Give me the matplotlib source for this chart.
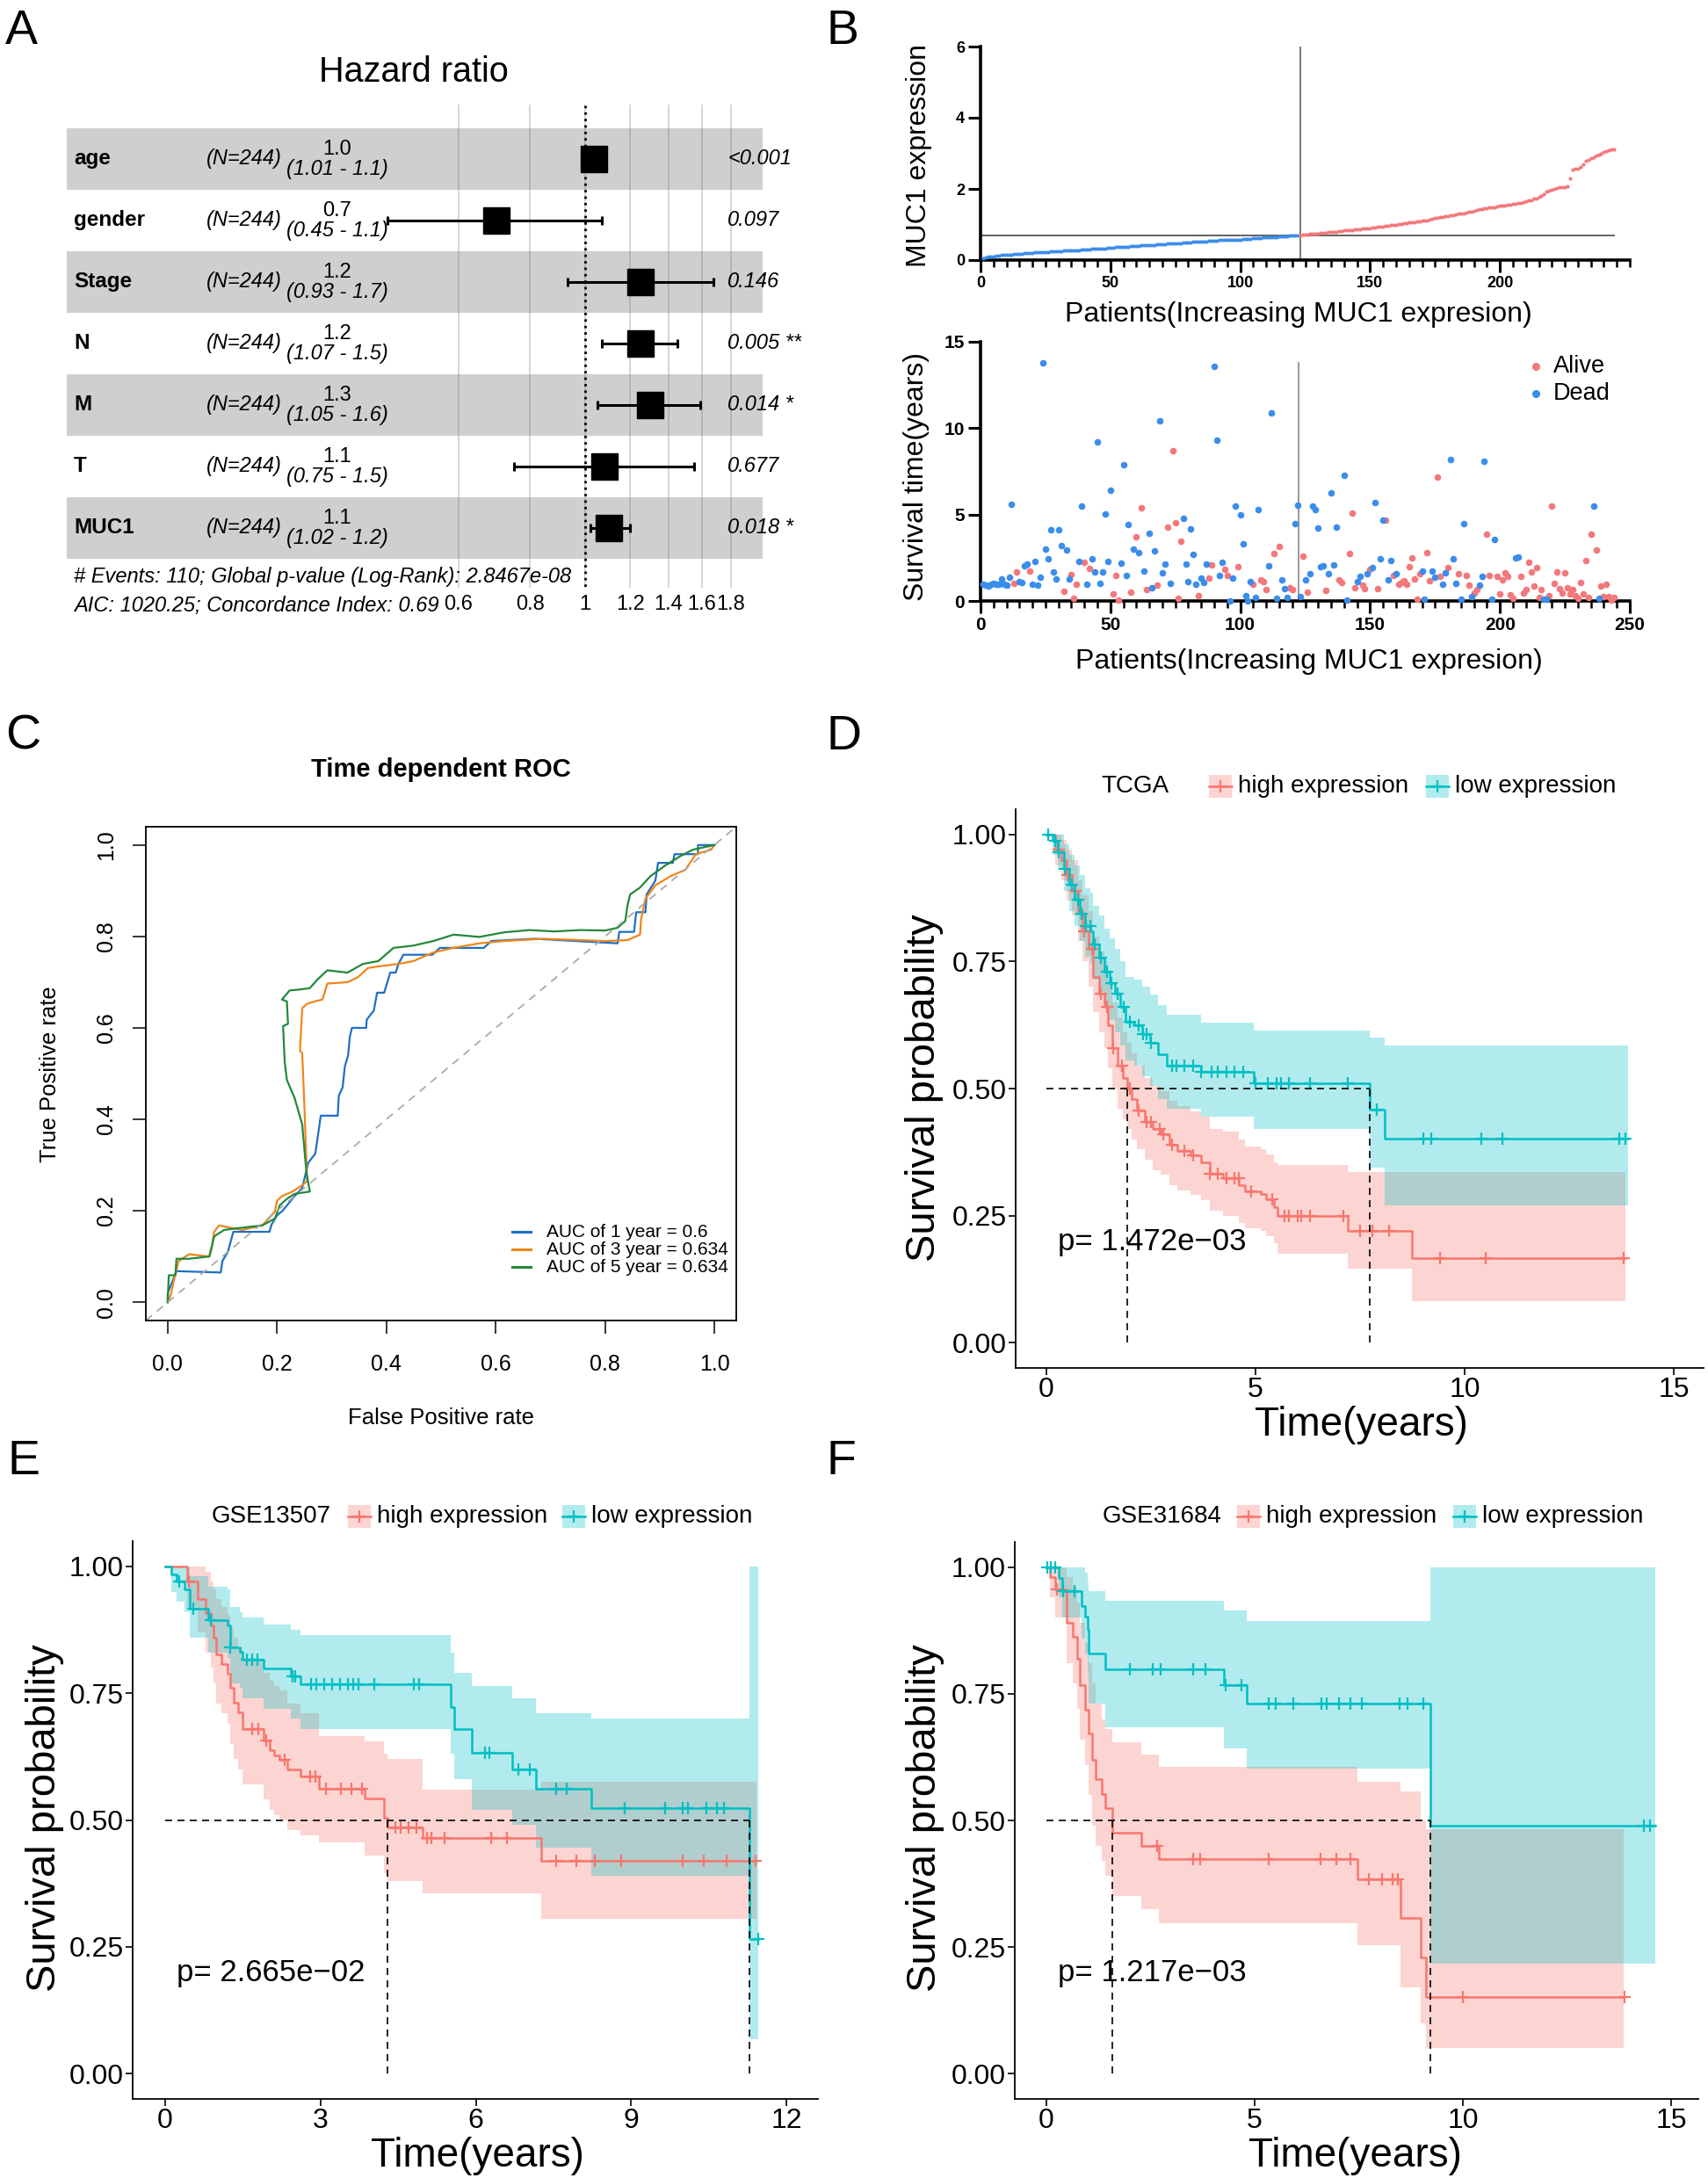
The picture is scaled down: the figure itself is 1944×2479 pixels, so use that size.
import numpy as np
import matplotlib.pyplot as plt
import matplotlib.transforms as mtransforms
from matplotlib.patches import Rectangle
from matplotlib.lines import Line2D
from matplotlib.ticker import MultipleLocator

plt.rcParams['font.family'] = ['Liberation Sans', 'DejaVu Sans']

# ---------------- data: A (multivariate Cox forest plot) ----------------
fp_vars = ['age', 'gender', 'Stage', 'N', 'M', 'T', 'MUC1']
fp_n = [244, 244, 244, 244, 244, 244, 244]
fp_hr = [1.036, 0.70, 1.25, 1.25, 1.30, 1.08, 1.10]
fp_lo = [1.01, 0.45, 0.93, 1.07, 1.05, 0.75, 1.02]
fp_hi = [1.06, 1.07, 1.68, 1.45, 1.59, 1.55, 1.20]
fp_hr_txt = ['1.0', '0.7', '1.2', '1.2', '1.3', '1.1', '1.1']
fp_ci_txt = ['(1.01 - 1.1)', '(0.45 - 1.1)', '(0.93 - 1.7)', '(1.07 - 1.5)',
             '(1.05 - 1.6)', '(0.75 - 1.5)', '(1.02 - 1.2)']
fp_p_txt = ['<0.001', '0.097', '0.146', '0.005 **', '0.014 *', '0.677', '0.018 *']
fp_ticks = [0.6, 0.8, 1, 1.2, 1.4, 1.6, 1.8]
fp_tick_lbl = ['0.6', '0.8', '1', '1.2', '1.4', '1.6', '1.8']
fp_footer = ['# Events: 110; Global p-value (Log-Rank): 2.8467e-08',
             'AIC: 1020.25; Concordance Index: 0.69']

# ---------------- data: B (risk plot) ----------------
muc1_expr = [
    0.06, 0.08, 0.09, 0.10, 0.11, 0.12, 0.13, 0.14, 0.14, 0.15,
    0.16, 0.16, 0.17, 0.17, 0.18, 0.18, 0.19, 0.19, 0.20, 0.20,
    0.21, 0.21, 0.22, 0.22, 0.23, 0.23, 0.24, 0.24, 0.24, 0.25,
    0.25, 0.26, 0.26, 0.27, 0.27, 0.28, 0.28, 0.28, 0.29, 0.29,
    0.30, 0.30, 0.31, 0.31, 0.32, 0.32, 0.33, 0.33, 0.34, 0.35,
    0.35, 0.36, 0.36, 0.37, 0.37, 0.38, 0.38, 0.39, 0.39, 0.40,
    0.40, 0.41, 0.41, 0.42, 0.42, 0.43, 0.43, 0.44, 0.44, 0.45,
    0.45, 0.46, 0.46, 0.47, 0.47, 0.48, 0.48, 0.49, 0.49, 0.50,
    0.50, 0.51, 0.51, 0.52, 0.52, 0.53, 0.53, 0.54, 0.54, 0.55,
    0.55, 0.56, 0.56, 0.56, 0.57, 0.57, 0.57, 0.58, 0.58, 0.58,
    0.59, 0.59, 0.60, 0.60, 0.61, 0.61, 0.62, 0.62, 0.63, 0.63,
    0.64, 0.64, 0.65, 0.65, 0.66, 0.66, 0.67, 0.67, 0.68, 0.68,
    0.69, 0.69,
    0.70, 0.71, 0.71, 0.72, 0.73, 0.73, 0.74, 0.75,
    0.76, 0.76, 0.77, 0.78, 0.79, 0.80, 0.80, 0.81, 0.82, 0.83,
    0.83, 0.84, 0.85, 0.86, 0.86, 0.87, 0.88, 0.89, 0.89, 0.90,
    0.91, 0.92, 0.93, 0.94, 0.95, 0.96, 0.97, 0.98, 0.99, 1.00,
    1.01, 1.02, 1.03, 1.04, 1.05, 1.06, 1.07, 1.08, 1.09, 1.10,
    1.11, 1.12, 1.14, 1.16, 1.18, 1.19, 1.20, 1.22, 1.23, 1.24,
    1.26, 1.27, 1.29, 1.30, 1.31, 1.32, 1.34, 1.36, 1.37, 1.39,
    1.40, 1.42, 1.43, 1.45, 1.46, 1.47, 1.48, 1.49, 1.51, 1.52,
    1.53, 1.54, 1.55, 1.56, 1.57, 1.58, 1.60, 1.61, 1.63, 1.65,
    1.67, 1.69, 1.72, 1.74, 1.78, 1.80, 1.84, 1.92, 1.95, 1.97,
    2.00, 2.03, 2.04, 2.05, 2.06, 2.08, 2.30, 2.54, 2.56, 2.58,
    2.62, 2.70, 2.78, 2.82, 2.86, 2.90, 2.94, 2.97, 3.00, 3.03,
    3.06, 3.08, 3.10, 3.12]
n_low = 122
cutoff = 0.70

surv_years = [
    0.98, 0.93, 0.85, 0.98, 1.00, 0.98, 0.98, 1.29, 0.95, 0.93,
    1.39, 5.59, 1.00, 1.70, 1.10, 1.07, 2.03, 2.15, 1.74, 0.95,
    2.29, 0.90, 1.35, 13.8, 3.00, 2.42, 4.13, 1.66, 1.27, 4.13,
    3.20, 0.56, 2.93, 1.29, 1.54, 0.17, 0.98, 2.29, 5.49, 2.22,
    0.96, 1.90, 2.44, 1.70, 9.19, 1.03, 1.69, 5.01, 2.29, 6.40,
    0.42, 1.46, 0.05, 2.20, 7.87, 1.49, 4.40, 0.52, 3.00, 3.69,
    2.78, 5.37, 1.74, 0.64, 3.94, 0.78, 2.89, 0.93, 10.41, 1.64,
    2.12, 4.25, 1.03, 8.68, 4.54, 0.17, 3.44, 4.79, 2.15, 1.12,
    4.18, 2.67, 0.96, 0.30, 1.30, 1.08, 2.12, 1.30, 2.08, 13.56,
    9.33, 1.46, 2.25, 1.83, 1.49, 0.00, 1.30, 5.47, 1.96, 4.99,
    3.30, 0.30, 0.00, 1.13, 0.96, 0.22, 5.30, 1.24, 1.13, 0.64,
    2.05, 10.88, 2.73, 0.14, 3.15, 1.24, 0.73, 0.19, 0.78, 0.68,
    4.45, 5.55, 0.25, 2.59, 1.20, 0.51, 1.57, 5.47, 5.30, 4.20,
    1.98, 2.05, 0.59, 1.57, 6.26, 2.08, 4.25, 1.20, 1.07, 7.25,
    0.05, 2.73, 5.08, 0.78, 1.13, 1.44, 0.90, 0.69, 1.57, 1.83,
    1.91, 5.72, 0.73, 2.42, 4.66, 4.66, 1.24, 2.34, 1.49, 1.57,
    0.98, 1.07, 1.15, 0.98, 1.98, 2.47, 1.27, 0.12, 1.57, 1.74,
    0.12, 2.81, 1.19, 1.71, 1.37, 7.19, 1.44, 0.98, 1.64, 1.91,
    8.21, 2.42, 1.00, 1.57, 0.08, 4.49, 1.47, 0.90, 0.24, 0.47,
    0.64, 0.93, 1.44, 8.08, 3.86, 1.46, 0.08, 3.57, 1.44, 0.42,
    1.20, 1.61, 1.44, 0.34, 0.14, 2.49, 2.56, 1.44, 0.44, 0.68,
    2.25, 1.66, 0.86, 1.93, 0.22, 0.64, 0.08, 0.12, 0.30, 5.47,
    1.02, 1.66, 0.69, 0.47, 1.61, 0.76, 0.39, 0.66, 0.30, 0.14,
    1.07, 0.39, 2.34, 0.22, 3.86, 5.50, 2.93, 0.14, 0.86, 0.25,
    0.96, 0.25, 0.05, 0.19]
# D = dead, A = alive (same order as surv_years)
surv_state = ("DDDDDDDDDD" "DDAADDDDAD" "DDDDDDDDDD" "DADDAAADDA" "DADDDDDDDD"
              "AAADDDDADA" "DADADDDADD" "DADAAAADDD" "DDDADDDAAD" "DDDAADDDAD"
              "DDDDADDAAA" "DDADADDDAA" "DDDADADDDD" "DDADDDDAAD" "DAAADDAADA"
              "DDADDADDAD" "AAAAAAAAAD" "DAADDAADDA" "DDDADDAADA" "ADDDAADDAA"
              "AAAAADDAAA" "AAAAAADDAA" "AAAAAAAAAA" "AAAAADADAA" "AAAA")

# ---------------- data: C (time dependent ROC) ----------------
roc1_fpr = [0, 0, 0.01, 0.016, 0.097, 0.1, 0.11, 0.12, 0.186, 0.19, 0.2, 0.21, 0.232,
            0.246, 0.257, 0.27, 0.28, 0.311, 0.313, 0.32, 0.324, 0.33, 0.333, 0.337,
            0.363, 0.364, 0.377, 0.383, 0.396, 0.401, 0.407, 0.417, 0.422, 0.431,
            0.484, 0.498, 0.578, 0.592, 0.671, 0.823, 0.826, 0.853, 0.857, 0.874,
            0.876, 0.892, 0.897, 0.924, 0.927, 0.97, 0.97, 1.0]
roc1_tpr = [0, 0.02, 0.05, 0.068, 0.065, 0.09, 0.11, 0.154, 0.154, 0.17, 0.19, 0.2, 0.232,
            0.25, 0.305, 0.325, 0.408, 0.408, 0.452, 0.47, 0.516, 0.54, 0.58, 0.6,
            0.6, 0.618, 0.638, 0.677, 0.677, 0.697, 0.721, 0.721, 0.74, 0.76,
            0.76, 0.775, 0.775, 0.79, 0.795, 0.785, 0.81, 0.81, 0.853, 0.853,
            0.892, 0.922, 0.961, 0.961, 0.98, 0.98, 1.0, 1.0]
roc3_fpr = [0, 0.006, 0.011, 0.02, 0.039, 0.076, 0.08, 0.085, 0.094, 0.136, 0.173, 0.196,
            0.2, 0.209, 0.228, 0.246, 0.255, 0.25, 0.246, 0.242, 0.246, 0.255, 0.269,
            0.283, 0.292, 0.329, 0.348, 0.366, 0.394, 0.422, 0.449, 0.486, 0.523,
            0.57, 0.615, 0.689, 0.8, 0.841, 0.864, 0.866, 0.874, 0.892, 0.92, 0.947,
            0.966, 0.994, 1.0]
roc3_tpr = [0, 0.017, 0.046, 0.09, 0.105, 0.1, 0.115, 0.154, 0.168, 0.158, 0.168, 0.198,
            0.222, 0.232, 0.242, 0.256, 0.265, 0.43, 0.545, 0.55, 0.643, 0.653, 0.658,
            0.662, 0.697, 0.7, 0.711, 0.731, 0.736, 0.74, 0.746, 0.765, 0.775,
            0.785, 0.79, 0.795, 0.79, 0.792, 0.804, 0.839, 0.883, 0.912, 0.932, 0.946,
            0.98, 0.99, 1.0]
roc5_fpr = [0, 0.002, 0.014, 0.016, 0.039, 0.076, 0.085, 0.103, 0.136, 0.173, 0.196, 0.205,
            0.219, 0.232, 0.26, 0.254, 0.246, 0.232, 0.218, 0.214, 0.211, 0.22, 0.218,
            0.209, 0.223, 0.242, 0.26, 0.274, 0.292, 0.329, 0.357, 0.385, 0.413,
            0.449, 0.486, 0.523, 0.57, 0.615, 0.661, 0.708, 0.754, 0.8, 0.823, 0.837,
            0.841, 0.846, 0.864, 0.883, 0.911, 0.938, 0.961, 1.0]
roc5_tpr = [0, 0.059, 0.059, 0.095, 0.095, 0.1, 0.144, 0.158, 0.163, 0.168, 0.183, 0.212,
            0.227, 0.237, 0.242, 0.281, 0.389, 0.447, 0.486, 0.525, 0.604, 0.609, 0.658,
            0.662, 0.682, 0.684, 0.687, 0.706, 0.726, 0.721, 0.74, 0.746, 0.775,
            0.78, 0.79, 0.804, 0.799, 0.809, 0.814, 0.811, 0.814, 0.813, 0.819, 0.834,
            0.868, 0.892, 0.907, 0.932, 0.956, 0.976, 0.99, 1.0]
roc_labels = ['AUC of 1 year = 0.6', 'AUC of 3 year = 0.634', 'AUC of 5 year = 0.634']

# ---------------- data: D (TCGA KM) ----------------
d_hi_t = [0, 0.2, 0.35, 0.48, 0.6, 0.75, 0.87, 1.0, 1.12, 1.25, 1.38, 1.48, 1.57, 1.7, 1.83,
          1.94, 2.03, 2.16, 2.35, 2.54, 2.74, 2.93, 3.12, 3.45, 3.7, 3.9, 4.22, 4.61, 4.74,
          5.12, 5.25, 5.45, 5.52, 7.21, 8.73, 13.85]
d_hi_s = [1.0, 0.97, 0.95, 0.92, 0.89, 0.85, 0.81, 0.775, 0.72, 0.686, 0.66, 0.625, 0.58,
          0.545, 0.52, 0.5, 0.48, 0.457, 0.435, 0.42, 0.41, 0.39, 0.377, 0.368, 0.355,
          0.333, 0.324, 0.31, 0.298, 0.293, 0.282, 0.267, 0.249, 0.22, 0.167, 0.167]
d_hi_lo = [1.0, 0.94, 0.91, 0.87, 0.84, 0.79, 0.75, 0.70, 0.65, 0.61, 0.58, 0.54, 0.50, 0.46,
           0.44, 0.42, 0.40, 0.38, 0.36, 0.34, 0.33, 0.31, 0.30, 0.29, 0.28, 0.26, 0.25,
           0.235, 0.225, 0.22, 0.21, 0.195, 0.175, 0.145, 0.082, 0.082]
d_hi_up = [1.0, 1.0, 0.99, 0.97, 0.95, 0.91, 0.88, 0.85, 0.80, 0.77, 0.75, 0.71, 0.67, 0.64,
           0.61, 0.59, 0.57, 0.545, 0.52, 0.505, 0.495, 0.475, 0.465, 0.455, 0.445, 0.42,
           0.415, 0.40, 0.385, 0.38, 0.37, 0.355, 0.35, 0.335, 0.335, 0.335]
d_hi_cens = [0.3, 0.5, 0.7, 0.9, 1.1, 1.3, 1.45, 1.6, 1.8, 2.0, 2.2, 2.4, 2.5, 2.7, 2.8, 3.0,
             3.3, 3.5, 3.9, 4.1, 4.3, 4.5, 4.6, 4.9, 5.4, 5.7, 5.8, 6.0, 6.1, 6.3, 7.1, 7.5,
             7.8, 8.2, 9.4, 10.5, 13.8]
d_lo_t = [0, 0.15, 0.28, 0.41, 0.54, 0.67, 0.8, 0.93, 1.06, 1.12, 1.25, 1.38, 1.51, 1.64,
          1.77, 1.9, 2.09, 2.28, 2.48, 2.67, 2.87, 3.7, 4.95, 7.72, 8.08, 13.9]
d_lo_s = [1.0, 0.987, 0.965, 0.933, 0.902, 0.872, 0.845, 0.82, 0.81, 0.784, 0.757, 0.73,
          0.708, 0.686, 0.66, 0.632, 0.625, 0.607, 0.59, 0.567, 0.545, 0.532, 0.51, 0.458,
          0.402, 0.402]
d_lo_lo = [1.0, 0.96, 0.93, 0.89, 0.85, 0.82, 0.79, 0.76, 0.745, 0.715, 0.69, 0.66, 0.635,
           0.61, 0.585, 0.555, 0.545, 0.525, 0.505, 0.48, 0.46, 0.445, 0.42, 0.345, 0.27, 0.27]
d_lo_up = [1.0, 1.0, 1.0, 0.98, 0.96, 0.94, 0.92, 0.895, 0.885, 0.86, 0.84, 0.815, 0.795,
           0.775, 0.75, 0.72, 0.715, 0.70, 0.685, 0.665, 0.645, 0.63, 0.615, 0.60, 0.585, 0.585]
d_lo_cens = [0.05, 0.2, 0.3, 0.45, 0.6, 0.75, 0.85, 0.95, 1.05, 1.15, 1.3, 1.45, 1.55, 1.7,
             1.85, 2.0, 2.2, 2.3, 2.4, 2.5, 3.0, 3.1, 3.3, 3.5, 3.7, 3.95, 4.1, 4.3, 4.5,
             4.7, 5.0, 5.3, 5.5, 5.6, 5.8, 6.3, 7.2, 7.9, 9.0, 9.2, 10.4, 10.9, 13.7, 13.85]

# ---------------- data: E (GSE13507 KM) ----------------
e_hi_t = [0, 0.43, 0.63, 0.78, 0.88, 0.94, 0.99, 1.09, 1.21, 1.26, 1.32, 1.41, 1.5, 1.9,
          2.02, 2.1, 2.2, 2.36, 2.61, 2.97, 3.86, 4.22, 4.3, 4.97, 7.26, 11.42]
e_hi_s = [1.0, 0.97, 0.936, 0.908, 0.884, 0.86, 0.827, 0.808, 0.789, 0.76, 0.732, 0.713,
          0.68, 0.656, 0.637, 0.627, 0.618, 0.599, 0.585, 0.561, 0.542, 0.504, 0.485,
          0.464, 0.42, 0.42]
e_hi_lo = [1.0, 0.92, 0.87, 0.83, 0.80, 0.77, 0.73, 0.71, 0.69, 0.65, 0.62, 0.60, 0.57,
           0.54, 0.52, 0.51, 0.50, 0.48, 0.47, 0.455, 0.43, 0.395, 0.38, 0.355, 0.305, 0.305]
e_hi_up = [1.0, 1.0, 1.0, 0.99, 0.97, 0.955, 0.935, 0.92, 0.905, 0.88, 0.86, 0.84, 0.815,
           0.79, 0.775, 0.765, 0.755, 0.73, 0.71, 0.665, 0.655, 0.63, 0.62, 0.56, 0.575, 0.575]
e_hi_cens = [0.45, 1.68, 1.8, 1.95, 2.3, 2.8, 2.9, 3.1, 3.4, 3.6, 3.8, 4.45, 4.55, 4.7, 4.85,
             5.05, 5.15, 5.4, 6.3, 6.6, 7.55, 7.95, 8.3, 8.8, 10.0, 10.4, 10.85, 11.4]
e_lo_t = [0, 0.12, 0.22, 0.38, 0.48, 0.83, 1.21, 1.26, 1.44, 1.5, 1.9, 2.43, 2.61, 5.52,
          5.58, 5.92, 6.7, 7.17, 8.23, 11.28, 11.46]
e_lo_s = [1.0, 0.984, 0.97, 0.955, 0.917, 0.894, 0.884, 0.84, 0.832, 0.817, 0.798, 0.784,
          0.767, 0.722, 0.68, 0.632, 0.599, 0.561, 0.523, 0.266, 0.266]
e_lo_lo = [1.0, 0.95, 0.93, 0.91, 0.86, 0.83, 0.82, 0.77, 0.76, 0.74, 0.72, 0.70, 0.68,
           0.63, 0.58, 0.52, 0.49, 0.445, 0.39, 0.067, 0.067]
e_lo_up = [1.0, 1.0, 1.0, 1.0, 0.98, 0.96, 0.955, 0.92, 0.91, 0.90, 0.885, 0.875, 0.865,
           0.83, 0.79, 0.765, 0.74, 0.71, 0.70, 1.0, 1.0]
e_lo_cens = [0.27, 0.55, 0.88, 1.26, 1.58, 1.68, 1.78, 2.46, 2.51, 2.82, 2.92, 3.07, 3.22,
             3.37, 3.53, 3.63, 3.73, 4.04, 4.8, 4.9, 6.17, 6.27, 6.83, 7.04, 7.55, 7.75,
             8.87, 9.65, 10.0, 10.1, 10.45, 10.65, 10.8, 11.46]

# ---------------- data: F (GSE31684 KM) ----------------
f_hi_t = [0, 0.09, 0.22, 0.48, 0.64, 0.74, 0.8, 0.93, 1.02, 1.1, 1.19, 1.32, 1.41, 1.58,
          2.27, 2.7, 7.46, 8.51, 8.99, 9.12, 13.86]
f_hi_s = [1.0, 0.98, 0.957, 0.89, 0.862, 0.819, 0.767, 0.719, 0.671, 0.619, 0.581, 0.552,
          0.524, 0.476, 0.45, 0.424, 0.383, 0.307, 0.23, 0.152, 0.152]
f_hi_lo = [1.0, 0.94, 0.9, 0.81, 0.77, 0.72, 0.66, 0.61, 0.55, 0.49, 0.45, 0.42, 0.39,
           0.35, 0.325, 0.297, 0.254, 0.171, 0.10, 0.05, 0.05]
f_hi_up = [1.0, 1.0, 1.0, 0.98, 0.96, 0.93, 0.89, 0.85, 0.81, 0.77, 0.73, 0.70, 0.68,
           0.655, 0.63, 0.605, 0.576, 0.557, 0.50, 0.483, 0.483]
f_hi_cens = [0.25, 2.66, 3.53, 3.7, 5.34, 6.57, 6.96, 7.29, 7.74, 8.06, 8.32, 8.43, 10.0, 13.87]
f_lo_t = [0, 0.3, 0.38, 0.84, 0.93, 1.0, 1.02, 1.41, 4.25, 4.81, 9.22, 14.62]
f_lo_s = [1.0, 0.979, 0.952, 0.924, 0.902, 0.876, 0.829, 0.798, 0.767, 0.731, 0.49, 0.49]
f_lo_lo = [1.0, 0.94, 0.90, 0.86, 0.83, 0.79, 0.73, 0.684, 0.643, 0.602, 0.217, 0.217]
f_lo_up = [1.0, 1.0, 1.0, 1.0, 0.99, 0.97, 0.952, 0.933, 0.914, 0.893, 1.0, 1.0]
f_lo_cens = [0.03, 0.1, 0.22, 0.41, 0.67, 2.0, 2.55, 2.75, 3.53, 3.81, 4.3, 4.69, 5.34, 5.51,
             5.92, 6.6, 6.73, 7.03, 7.29, 7.58, 8.48, 8.67, 9.04, 14.35, 14.5]

km_labels = ['high expression', 'low expression']
RED, TEAL = '#F8766D', '#00BFC4'

# ---------------- figure ----------------
W, H = 1944, 2479
fig = plt.figure(figsize=(W / 100, H / 100), dpi=100)


def fx(px):
    return px / W


def fy(py):
    return 1 - py / H


def rect(l, t, r, b):
    return [fx(l), fy(b), (r - l) / W, (b - t) / H]


for lab, x, y in [('A', 6, 10), ('B', 940, 10), ('C', 6, 813), ('D', 940, 813),
                  ('E', 8, 1638), ('F', 940, 1638)]:
    fig.text(fx(x), fy(y), lab, fontsize=40, va='top', ha='left')

# ---- A ----
axa = fig.add_axes(rect(76, 100, 912, 720))
axa.set_xscale('log')
axa.set_xlim(np.exp((76 - 666) / 282), np.exp((912 - 666) / 282))
axa.set_ylim(7.7, -1.157)
axa.axis('off')
rows = np.arange(len(fp_vars))
for i in rows[::2]:
    axa.axhspan(i - 0.5, i + 0.5, xmin=0, xmax=(868 - 76) / 836, color='#cfcfcf', lw=0, zorder=0)
for v in fp_ticks:
    axa.plot([v, v], [-0.87, 6.96], color='#7f7f7f', alpha=0.35, lw=1.3, zorder=1)
axa.plot([1, 1], [-0.87, 6.96], color='black', ls=':', lw=2, zorder=2)
axa.hlines(rows, fp_lo, fp_hi, color='black', lw=2.2, zorder=3)
axa.vlines(fp_lo, rows - 0.07, rows + 0.07, color='black', lw=2.2, zorder=3)
axa.vlines(fp_hi, rows - 0.07, rows + 0.07, color='black', lw=2.2, zorder=3)
axa.plot(fp_hr, rows, 's', color='black', ms=21.5, zorder=4)

tr = mtransforms.blended_transform_factory(axa.transAxes, axa.transData)


def afr(px):
    return (px - 76) / 836


for i in rows:
    axa.text(afr(84), i, fp_vars[i], transform=tr, fontsize=17.5, fontweight='bold', va='center')
    axa.text(afr(278), i, f'(N={fp_n[i]})', transform=tr, fontsize=17, style='italic',
             ha='center', va='center')
    axa.text(afr(384), i - 0.15, fp_hr_txt[i], transform=tr, fontsize=17, ha='center', va='center')
    axa.text(afr(384), i + 0.17, fp_ci_txt[i], transform=tr, fontsize=17, style='italic',
             ha='center', va='center')
    axa.text(afr(828), i, fp_p_txt[i], transform=tr, fontsize=17, style='italic',
             va='center', clip_on=True)
for v, lbl in zip(fp_ticks, fp_tick_lbl):
    axa.text(v, 7.24, lbl, fontsize=17, ha='center', va='center')
axa.text(afr(84), 6.8, fp_footer[0], transform=tr, fontsize=17, style='italic', va='center')
axa.text(afr(84), 7.27, fp_footer[1], transform=tr, fontsize=17, style='italic', va='center')
fig.text(fx(471), fy(82), 'Hazard ratio', fontsize=28.5, ha='center', va='center')

# ---- B ----
B_RED, B_BLUE = '#F2787B', '#3B8DEA'
pat = np.arange(1, len(muc1_expr) + 1)
expr = np.array(muc1_expr)
low = pat <= n_low

axb1 = fig.add_axes(rect(1116, 53, 1855, 296))
axb1.scatter(pat[low], expr[low], s=9, color=B_BLUE, lw=0, clip_on=False, zorder=3)
axb1.scatter(pat[~low], expr[~low], s=9, color=B_RED, lw=0, clip_on=False, zorder=3)
axb1.plot([0, len(expr)], [cutoff, cutoff], color='#555555', lw=1.3, zorder=2)
axb1.plot([n_low + 1, n_low + 1], [0, 6], color='#555555', lw=1.1, zorder=2)
axb1.set_xlim(0, 250)
axb1.set_ylim(0, 6)
axb1.set_xticks([0, 50, 100, 150, 200])
axb1.set_yticks([0, 2, 4, 6])

axb2 = fig.add_axes(rect(1116, 389, 1855, 684))
yrs = np.array(surv_years)
dead = np.array([c == 'D' for c in surv_state])
pat2 = np.arange(1, len(yrs) + 1)
axb2.scatter(pat2[~dead], yrs[~dead], s=30, color=B_RED, lw=0, clip_on=False, zorder=3)
axb2.scatter(pat2[dead], yrs[dead], s=30, color=B_BLUE, lw=0, clip_on=False, zorder=3)
axb2.plot([n_low + 0.5, n_low + 0.5], [0, yrs.max()], color='#888888', lw=1.2, zorder=2)
axb2.set_xlim(0, 250)
axb2.set_ylim(0, 15)
axb2.set_xticks([0, 50, 100, 150, 200, 250])
axb2.set_yticks([0, 5, 10, 15])

for axb, fs in ((axb1, 13), (axb2, 15)):
    axb.spines[['top', 'right']].set_visible(False)
    axb.spines[['left', 'bottom']].set_linewidth(2.6)
    axb.xaxis.set_minor_locator(MultipleLocator(5))
    axb.tick_params(which='major', direction='out', length=10, width=2.2, labelsize=fs, pad=3)
    axb.tick_params(which='minor', axis='x', direction='out', length=6, width=1.8)
    for lbl in axb.get_xticklabels() + axb.get_yticklabels():
        lbl.set_fontweight('bold')

fig.text(fx(1046), fy(177), 'MUC1 expression', fontsize=23, rotation=90, ha='center', va='center')
fig.text(fx(1478), fy(358), 'Patients(Increasing MUC1 expresion)', fontsize=23, ha='center', va='center')
fig.text(fx(1043), fy(542), 'Survival time(years)', fontsize=23, rotation=90, ha='center', va='center')
fig.text(fx(1490), fy(753), 'Patients(Increasing MUC1 expresion)', fontsize=23, ha='center', va='center')
for y, col, lab in ((417, B_RED, 'Alive'), (448, B_BLUE, 'Dead')):
    fig.add_artist(Line2D([fx(1748)], [fy(y)], marker='o', ms=5.5, color=col, lw=0,
                          transform=fig.transFigure))
    fig.text(fx(1768), fy(y), lab, fontsize=19.5, va='center')

# ---- C ----
axc = fig.add_axes(rect(166, 941, 838, 1503))
roc_cols = ['#1F6FC5', '#F0861C', '#23883A']
for fpr, tpr, col in ((roc1_fpr, roc1_tpr, roc_cols[0]), (roc3_fpr, roc3_tpr, roc_cols[1]),
                      (roc5_fpr, roc5_tpr, roc_cols[2])):
    axc.plot(fpr, tpr, color=col, lw=1.6)
axc.plot([-0.04, 1.04], [-0.04, 1.04], ls=(0, (5, 4)), color='#aaaaaa', lw=1.3)
axc.set_xlim(-0.04, 1.04)
axc.set_ylim(-0.04, 1.04)
rt = [0, 0.2, 0.4, 0.6, 0.8, 1.0]
axc.set_xticks(rt)
axc.set_xticklabels([f'{v:.1f}' for v in rt])
axc.set_yticks(rt)
axc.set_yticklabels([f'{v:.1f}' for v in rt], rotation=90, va='center')
axc.tick_params(length=11, width=1.1, labelsize=18)
axc.tick_params(axis='x', pad=16)
axc.tick_params(axis='y', pad=13)
for sp in axc.spines.values():
    sp.set_linewidth(1.3)
fig.text(fx(502), fy(876), 'Time dependent ROC', fontsize=21, fontweight='bold', ha='center', va='center')
fig.text(fx(57), fy(1223), 'True Positive rate', fontsize=18.5, rotation=90, ha='center', va='center')
fig.text(fx(502), fy(1614), 'False Positive rate', fontsize=18.5, ha='center', va='center')
for k, (col, lab) in enumerate(zip(roc_cols, roc_labels)):
    y = 1402 + 20 * k
    fig.add_artist(Line2D([fx(583), fx(604)], [fy(y), fy(y)], color=col, lw=2.2,
                          transform=fig.transFigure))
    fig.text(fx(622), fy(y), lab, fontsize=15, va='center')


# ---- D, E, F ----
def km_panel(box, xlim, xticks, groups, name, leg_x, leg_y, p_text, p_xy, ylab_xy, xlab_xy):
    ax = fig.add_axes(box)
    meds = []
    for t, s, lo, up, cens, col in groups:
        t, s = np.array(t), np.array(s)
        ax.fill_between(t, lo, up, step='post', color=col, alpha=0.3, lw=0)
        ax.step(t, s, where='post', color=col, lw=1.8)
        cy = s[np.searchsorted(t, cens, side='right') - 1]
        ax.plot(cens, cy, '+', color=col, ms=10, mew=1.6)
        meds.append(t[np.argmax(s <= 0.5)])
    ax.plot([0, max(meds)], [0.5, 0.5], color='black', lw=1.2, dashes=(4.8, 3.6))
    for m in meds:
        ax.plot([m, m], [0, 0.5], color='black', lw=1.2, dashes=(4.8, 3.6))
    ax.set_xlim(*xlim)
    ax.set_ylim(-0.05, 1.05)
    ax.set_xticks(xticks)
    ax.set_yticks([0, 0.25, 0.5, 0.75, 1.0])
    ax.set_yticklabels(['0.00', '0.25', '0.50', '0.75', '1.00'])
    ax.spines[['top', 'right']].set_visible(False)
    ax.spines[['left', 'bottom']].set_linewidth(1.3)
    ax.tick_params(length=6, width=1.2, labelsize=23, pad=1.5)
    fig.text(fx(p_xy[0]), fy(p_xy[1]), p_text, fontsize=25, va='center')
    fig.text(fx(ylab_xy[0]), fy(ylab_xy[1]), 'Survival probability', fontsize=34,
             rotation=90, ha='center', va='center')
    fig.text(fx(xlab_xy[0]), fy(xlab_xy[1]), 'Time(years)', fontsize=33, ha='center', va='center')
    # legend: title + two keys
    fig.text(fx(leg_x[0]), fy(leg_y), name, fontsize=20, va='center')
    for kx, col, lab in zip(leg_x[1:], (RED, TEAL), km_labels):
        fig.add_artist(Rectangle((fx(kx), fy(leg_y + 13)), 26 / W, 26 / H, color=col,
                                 alpha=0.3, lw=0, transform=fig.transFigure))
        fig.add_artist(Line2D([fx(kx), fx(kx + 26)], [fy(leg_y), fy(leg_y)], color=col,
                              lw=1.8, transform=fig.transFigure))
        fig.add_artist(Line2D([fx(kx + 13)], [fy(leg_y)], marker='+', ms=10, mew=1.6,
                              color=col, transform=fig.transFigure))
        fig.text(fx(kx + 33), fy(leg_y), lab, fontsize=20, va='center')
    return ax


km_panel(rect(1156, 921, 1939, 1557), (-0.735, 15.71), [0, 5, 10, 15],
         [(d_hi_t, d_hi_s, d_hi_lo, d_hi_up, d_hi_cens, RED),
          (d_lo_t, d_lo_s, d_lo_lo, d_lo_up, d_lo_cens, TEAL)],
         'TCGA', (1253, 1376, 1623), 895, 'p= 1.472e\u221203', (1204, 1414),
         (1052, 1238), (1549, 1622))
km_panel(rect(151, 1754, 931, 2389), (-0.628, 12.61), [0, 3, 6, 9, 12],
         [(e_hi_t, e_hi_s, e_hi_lo, e_hi_up, e_hi_cens, RED),
          (e_lo_t, e_lo_s, e_lo_lo, e_lo_up, e_lo_cens, TEAL)],
         'GSE13507', (241, 396, 640), 1726, 'p= 2.665e\u221202', (201, 2245),
         (51, 2069), (543, 2454))
km_panel(rect(1155, 1755, 1933, 2389), (-0.76, 15.65), [0, 5, 10, 15],
         [(f_hi_t, f_hi_s, f_hi_lo, f_hi_up, f_hi_cens, RED),
          (f_lo_t, f_lo_s, f_lo_lo, f_lo_up, f_lo_cens, TEAL)],
         'GSE31684', (1255, 1408, 1654), 1726, 'p= 1.217e\u221203', (1204, 2245),
         (1053, 2069), (1542, 2454))

fig.savefig('out.png', dpi=100)
